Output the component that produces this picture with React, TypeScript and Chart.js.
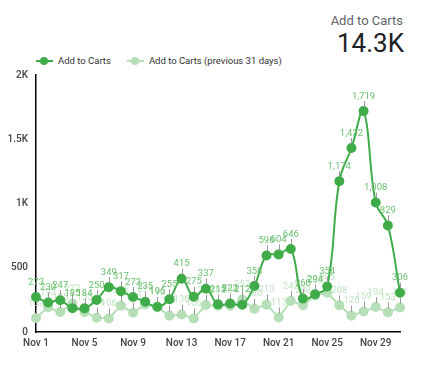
import React, { useEffect, useRef } from "react";
import { Chart, registerables } from "chart.js";

Chart.register(...registerables);

const labels = [
  "Nov 1","Nov 2","Nov 3","Nov 4","Nov 5","Nov 6","Nov 7","Nov 8","Nov 9","Nov 10",
  "Nov 11","Nov 12","Nov 13","Nov 14","Nov 15","Nov 16","Nov 17","Nov 18","Nov 19","Nov 20",
  "Nov 21","Nov 22","Nov 23","Nov 24","Nov 25","Nov 26","Nov 27","Nov 28","Nov 29","Nov 30","Dec 1",
];
const current = [
  273, 230, 247, 185, 184, 250, 349, 317, 273, 235,
  196, 255, 415, 275, 337, 215, 222, 212, 358, 596,
  604, 646, 260, 294, 354, 1174, 1432, 1719, 1008, 829, 306,
];
const previous = [
  109, 193, 155, 222, 155, 111, 106, 205, 150, 214,
  193, 127, 136, 106, 210, 205, 204, 252, 180, 213,
  113, 242, 208, 285, 305, 208, 126, 159, 194, 153, 191,
];
const yTicks = [0, 500, 1000, 1500, 2000];
const yTickLabels = ["0", "500", "1K", "1.5K", "2K"];

const GREEN = "#3fac49";
const LIGHT = "#b6dfb8";
const GREEN_LABEL = "#6bbf6f";
const LIGHT_LABEL = "#c0e4c2";
const FONT = "Roboto, 'Noto Sans', sans-serif";

const labelPlugin = {
  id: "pointLabels",
  afterDatasetDraw(chart: any, args: any) {
    const ctx = chart.ctx;
    const di = args.index;
    const meta = args.meta;
    const ds = chart.data.datasets[di];
    ctx.save();
    ctx.font = `9.5px ${FONT}`;
    ctx.textAlign = "center";
    ctx.textBaseline = "bottom";
    meta.data.forEach((pt: any, i: number) => {
      const v = ds.data[i] as number;
      ctx.strokeStyle = "#999";
      ctx.lineWidth = 1;
      ctx.beginPath();
      ctx.moveTo(Math.round(pt.x) + 0.5, pt.y - 10);
      ctx.lineTo(Math.round(pt.x) + 0.5, pt.y - 4);
      ctx.stroke();
      ctx.fillStyle = ds.labelColor;
      ctx.fillText(v.toLocaleString("en-US"), pt.x, pt.y - 10);
    });
    ctx.restore();
  },
};

export default function App() {
  const ref = useRef<HTMLCanvasElement>(null);
  useEffect(() => {
    if (!ref.current) return;
    const chart = new Chart(ref.current, {
      type: "line",
      data: {
        labels,
        datasets: [
          {
            label: "Add to Carts",
            data: current,
            borderColor: GREEN,
            backgroundColor: GREEN,
            pointBackgroundColor: GREEN,
            pointBorderColor: GREEN,
            pointRadius: 4,
            borderWidth: 2,
            tension: 0.4,
            order: 0,
            labelColor: GREEN_LABEL,
          } as any,
          {
            label: "Add to Carts (previous 31 days)",
            data: previous,
            borderColor: LIGHT,
            backgroundColor: LIGHT,
            pointBackgroundColor: LIGHT,
            pointBorderColor: LIGHT,
            pointRadius: 4,
            borderWidth: 2,
            tension: 0,
            order: 1,
            labelColor: LIGHT_LABEL,
          } as any,
        ],
      },
      options: {
        responsive: false,
        animation: false,
        layout: { padding: { left: 0, right: 27, top: 75, bottom: 8 } },
        plugins: { legend: { display: false }, tooltip: { enabled: false } },
        scales: {
          x: {
            grid: { display: false, drawTicks: false },
            border: { display: true, color: "#000", width: 1.5 },
            ticks: {
              autoSkip: false,
              maxRotation: 0,
              padding: 5,
              color: "#444",
              font: { family: FONT, size: 10, weight: "500" as any },
              callback: (_v: any, i: number) => (i % 4 === 0 ? labels[i] : ""),
            },
            afterFit: (s: any) => { s.height = 30; },
          },
          y: {
            min: 0,
            max: 2000,
            afterBuildTicks: (s: any) => { s.ticks = yTicks.map((v) => ({ value: v })); },
            grid: { display: false, drawTicks: false },
            border: { display: true, color: "#000", width: 1.5 },
            ticks: {
              padding: 8,
              color: "#444",
              font: { family: FONT, size: 10, weight: "500" as any },
              callback: (v: any) => yTickLabels[yTicks.indexOf(Number(v))] ?? "",
            },
            afterFit: (s: any) => { s.width = 36; },
          },
        },
      },
      plugins: [labelPlugin],
    });
    return () => chart.destroy();
  }, []);

  const legendItem = (color: string, text: string, mr: number) => (
    <div style={{ display: "flex", alignItems: "center", marginRight: mr }}>
      <div style={{ position: "relative", width: 17, height: 10, marginRight: 5 }}>
        <div style={{ position: "absolute", left: 0, right: 0, top: 4, height: 2, background: color }} />
        <div style={{ position: "absolute", left: 4, top: 1, width: 8, height: 8, borderRadius: 4, background: color }} />
      </div>
      <span>{text}</span>
    </div>
  );

  return (
    <div style={{ position: "fixed", left: 0, top: 0, width: 427, height: 370, background: "#fff", fontFamily: FONT }}>
      <div style={{ position: "absolute", right: 24, top: 13, fontSize: 13, color: "#5f6368", textAlign: "right", lineHeight: "16px" }}>
        Add to Carts
      </div>
      <div style={{ position: "absolute", right: 23, top: 28, fontSize: 26, color: "#202124", textAlign: "right", lineHeight: "30px" }}>
        14.3K
      </div>
      <div style={{ position: "absolute", left: 36, top: 54, display: "flex", fontSize: 9.5, color: "#333", lineHeight: "14px" }}>
        {legendItem(GREEN, "Add to Carts", 16)}
        {legendItem(LIGHT, "Add to Carts (previous 31 days)", 0)}
      </div>
      <canvas ref={ref} width={427} height={370} style={{ position: "absolute", left: 0, top: 0 }} />
    </div>
  );
}
